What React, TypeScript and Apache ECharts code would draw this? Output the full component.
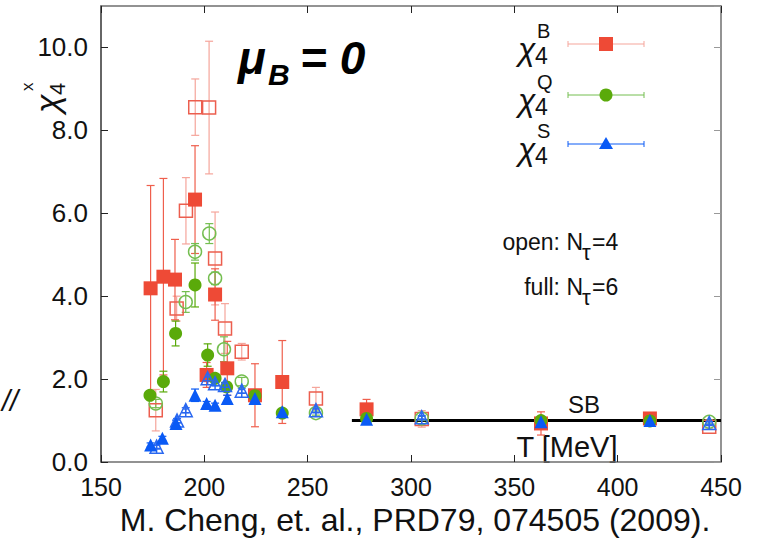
import React, { useEffect, useRef } from "react";
import * as echarts from "echarts";

// ---------- data (T in MeV, chi_4 values, symmetric errors) ----------
const xTicks = [150, 200, 250, 300, 350, 400, 450];
const yTicks = [0, 2, 4, 6, 8, 10];

// chi4^B, N_tau = 6 (filled)
const bFullT = [174.0, 180.2, 185.8, 195.5, 201.1, 205.2, 211.1, 224.5, 237.7, 278.5, 362.9, 415.6];
const bFullV = [4.19, 4.47, 4.40, 6.33, 2.10, 4.04, 2.26, 1.61, 1.93, 1.27, 0.93, 1.05];
const bFullE = [2.48, 2.37, 0.97, 1.30, 0.30, 0.62, 0.65, 0.76, 1.00, 0.24, 0.28, 0.05];
// chi4^B, N_tau = 4 (open)
const bOpenT = [176.5, 186.6, 191.1, 195.6, 202.3, 205.2, 210.0, 218.1, 254.0, 305.2, 444.3];
const bOpenV = [1.25, 3.70, 6.06, 8.56, 8.55, 4.91, 3.22, 2.66, 1.53, 1.04, 0.85];
const bOpenE = [0.50, 0.30, 0.80, 0.68, 1.60, 1.12, 0.60, 0.20, 0.27, 0.20, 0.05];
// chi4^Q, N_tau = 6 (filled)
const qFullT = [173.7, 180.2, 186.1, 195.5, 201.6, 205.2, 210.8, 224.5, 237.7, 278.5, 362.9, 415.6];
const qFullV = [1.61, 1.94, 3.10, 4.27, 2.58, 2.02, 1.81, 1.60, 1.18, 1.05, 1.00, 0.99];
const qFullE = [0.10, 0.25, 0.30, 0.53, 0.27, 0.10, 0.10, 0.10, 0.08, 0.05, 0.05, 0.03];
// chi4^Q, N_tau = 4 (open)
const qOpenT = [176.5, 191.0, 195.5, 202.4, 205.2, 209.5, 218.1, 254.0, 305.2, 444.3];
const qOpenV = [1.41, 3.86, 5.07, 5.51, 4.43, 2.72, 1.94, 1.18, 1.05, 0.97];
const qOpenE = [0.10, 0.25, 0.20, 0.24, 0.15, 0.30, 0.10, 0.05, 0.05, 0.05];
// chi4^S, N_tau = 6 (filled)
const sFullT = [174.0, 179.7, 186.3, 195.5, 201.1, 205.2, 211.1, 224.5, 237.7, 278.5, 362.9, 415.6];
const sFullV = [0.41, 0.57, 0.93, 1.61, 1.41, 1.37, 1.53, 1.53, 1.21, 1.03, 0.97, 1.00];
const sFullE = [0.05, 0.05, 0.08, 0.15, 0.05, 0.05, 0.08, 0.10, 0.05, 0.03, 0.03, 0.02];
// chi4^S, N_tau = 4 (open)
const sOpenT = [176.9, 186.8, 191.0, 201.6, 205.2, 210.0, 218.1, 254.0, 305.2, 444.3];
const sOpenV = [0.37, 1.00, 1.25, 2.02, 1.90, 1.86, 1.72, 1.25, 1.08, 0.94];
const sOpenE = [0.04, 0.05, 0.06, 0.08, 0.06, 0.06, 0.06, 0.05, 0.04, 0.03];

// Stefan-Boltzmann limit
const sbT = [271.4, 450];
const sbV = [1.0, 1.0];

const RED = "#EE4A36";
const RED_OPEN = "#EC5E4E";
const RED_BAR = "#EF5F4D";
const RED_BAR_PALE = "#F5A59B";
const GREEN = "#5AAA0A";
const GREEN_OPEN = "#74BE50";
const BLUE = "#0A5AF5";
const BLUE_OPEN = "#2A68F0";

const FONT = "'Liberation Sans', Arial, sans-serif";

const OPEN_TRI = "path://M5,0 L10,9 L0,9 Z M2.2,6.2 L7.8,6.2 M3.5,3.6 L6.5,3.6 M5,1 L5,9";

function errSeries(T: number[], V: number[], E: number[], color: string) {
  return {
    type: "custom",
    xAxisIndex: 0,
    yAxisIndex: 0,
    silent: true,
    z: 1,
    data: T.map((t, i) => [t, V[i] - E[i], V[i] + E[i]]),
    encode: { x: 0, y: [1, 2] },
    renderItem: (params: any, api: any) => {
      const x = api.value(0);
      const lo = api.coord([x, api.value(1)]);
      const hi = api.coord([x, api.value(2)]);
      const hw = 4;
      const st = { stroke: color, lineWidth: 1.2 };
      return {
        type: "group",
        children: [
          { type: "line", shape: { x1: lo[0], y1: lo[1], x2: hi[0], y2: hi[1] }, style: st },
          { type: "line", shape: { x1: lo[0] - hw, y1: lo[1], x2: lo[0] + hw, y2: lo[1] }, style: st },
          { type: "line", shape: { x1: hi[0] - hw, y1: hi[1], x2: hi[0] + hw, y2: hi[1] }, style: st },
        ],
      };
    },
  };
}

function scatter(T: number[], V: number[], symbol: string, size: number, filled: boolean, color: string, z: number) {
  return {
    type: "scatter",
    xAxisIndex: 0,
    yAxisIndex: 0,
    silent: true,
    z,
    symbol,
    symbolSize: size,
    data: T.map((t, i) => [t, V[i]]),
    itemStyle: filled
      ? { color, opacity: 1 }
      : { color: "rgba(255,255,255,0)", borderColor: color, borderWidth: 1.5, opacity: 1 },
  };
}

function legendEntry(y: number, sup: string, color: string, symbolEl: any) {
  return [
    { type: "text", x: 518, y: y + 5, style: { text: "χ", font: `italic 32px ${FONT}`, fill: "#111", textAlign: "left", textVerticalAlign: "middle" } },
    { type: "text", x: 535, y: y + 12, style: { text: "4", font: `23px ${FONT}`, fill: "#111", textAlign: "left", textVerticalAlign: "middle" } },
    { type: "text", x: 537, y: y - 13, style: { text: sup, font: `20px ${FONT}`, fill: "#111", textAlign: "left", textVerticalAlign: "middle" } },
    { type: "line", shape: { x1: 568, y1: y, x2: 644, y2: y }, style: { stroke: color, lineWidth: 1 } },
    { type: "line", shape: { x1: 568, y1: y - 3, x2: 568, y2: y + 3 }, style: { stroke: color, lineWidth: 1 } },
    { type: "line", shape: { x1: 644, y1: y - 3, x2: 644, y2: y + 3 }, style: { stroke: color, lineWidth: 1 } },
    symbolEl,
  ];
}

export default function App() {
  const ref = useRef<HTMLDivElement>(null);

  useEffect(() => {
    if (!ref.current) return;
    const chart = echarts.init(ref.current, undefined, { renderer: "svg" });

    const axisLineStyle = { color: "#6f6f6f", width: 1.5 };
    const tickStyle = { color: "#222", width: 1 };

    const option: any = {
      animation: false,
      backgroundColor: "#fff",
      grid: { left: 101, right: 38, top: 6, bottom: 78, containLabel: false },
      xAxis: [
        {
          type: "value", position: "bottom", min: xTicks[0], max: xTicks[xTicks.length - 1], interval: 50,
          axisLine: { onZero: false, lineStyle: axisLineStyle },
          axisTick: { inside: true, length: 7, lineStyle: tickStyle },
          axisLabel: { fontSize: 25, color: "#111", margin: 12, fontFamily: FONT },
          splitLine: { show: false },
        },
        {
          type: "value", position: "top", min: xTicks[0], max: xTicks[xTicks.length - 1], interval: 50,
          axisLine: { onZero: false, lineStyle: axisLineStyle },
          axisTick: { inside: true, length: 7, lineStyle: tickStyle },
          axisLabel: { show: false },
          splitLine: { show: false },
        },
      ],
      yAxis: [
        {
          type: "value", position: "left", min: yTicks[0], max: 11, interval: 2,
          axisLine: { onZero: false, lineStyle: { color: "#333", width: 1.5 } },
          axisTick: { inside: true, length: 7, lineStyle: tickStyle },
          axisLabel: {
            fontSize: 26, color: "#111", margin: 13, fontFamily: FONT, showMaxLabel: false,
            formatter: (v: number) => (yTicks.includes(v) ? v.toFixed(1) : ""),
          },
          splitLine: { show: false },
        },
        {
          type: "value", position: "right", min: yTicks[0], max: 11, interval: 2,
          axisLine: { onZero: false, lineStyle: axisLineStyle },
          axisTick: { inside: true, length: 7, lineStyle: { color: "#999", width: 1 } },
          axisLabel: { show: false },
          splitLine: { show: false },
        },
      ],
      series: [
        // SB line
        {
          type: "line", xAxisIndex: 0, yAxisIndex: 0, silent: true, z: 0,
          data: sbT.map((t, i) => [t, sbV[i]]), symbol: "none",
          lineStyle: { color: "#000", width: 3 },
        },
        errSeries(bOpenT, bOpenV, bOpenE, RED_BAR_PALE),
        errSeries(bFullT, bFullV, bFullE, RED_BAR),
        errSeries(qOpenT, qOpenV, qOpenE, GREEN_OPEN),
        errSeries(qFullT, qFullV, qFullE, GREEN),
        errSeries(sOpenT, sOpenV, sOpenE, BLUE_OPEN),
        errSeries(sFullT, sFullV, sFullE, BLUE),
        scatter(bOpenT, bOpenV, "rect", 13, false, RED_OPEN, 3),
        scatter(bFullT, bFullV, "rect", 14, true, RED, 4),
        scatter(qOpenT, qOpenV, "circle", 13, false, GREEN_OPEN, 5),
        scatter(qFullT, qFullV, "circle", 13, true, GREEN, 6),
        scatter(sOpenT, sOpenV, OPEN_TRI, 13, false, BLUE_OPEN, 7),
        scatter(sFullT, sFullV, "triangle", 13, true, BLUE, 8),
      ],
      graphic: [
        // mu_B = 0
        { type: "text", x: 238, y: 58, style: { text: "μ", font: `italic bold 46px ${FONT}`, fill: "#000", textVerticalAlign: "middle" } },
        { type: "text", x: 268, y: 74, style: { text: "B", font: `italic bold 30px ${FONT}`, fill: "#000", textVerticalAlign: "middle" } },
        { type: "text", x: 300, y: 58, style: { text: "= 0", font: `italic bold 46px ${FONT}`, fill: "#000", textVerticalAlign: "middle" } },
        // y axis title chi_4^x (rotated)
        {
          type: "group", x: 47, y: 113, rotation: Math.PI / 2,
          children: [
            { type: "text", x: 0, y: 0, style: { text: "χ", font: `italic 34px ${FONT}`, fill: "#111", textVerticalAlign: "middle" } },
            { type: "text", x: 18, y: 10, style: { text: "4", font: `22px ${FONT}`, fill: "#111", textVerticalAlign: "middle" } },
            { type: "text", x: 22, y: -20, style: { text: "x", font: `17px ${FONT}`, fill: "#111", textVerticalAlign: "middle" } },
          ],
        },
        { type: "text", x: 2, y: 401, style: { text: "//", font: `italic 29px ${FONT}`, fill: "#111", textVerticalAlign: "middle" } },
        // legend
        ...legendEntry(44, "B", RED_BAR_PALE, { type: "rect", shape: { x: 599, y: 37, width: 14, height: 14 }, style: { fill: RED } }),
        ...legendEntry(95, "Q", GREEN_OPEN, { type: "circle", shape: { cx: 606, cy: 95, r: 6.5 }, style: { fill: GREEN } }),
        ...legendEntry(144, "S", BLUE, { type: "polygon", shape: { points: [[606, 137], [613, 149], [599, 149]] }, style: { fill: BLUE } }),
        // lattice notes
        { type: "text", x: 583, y: 242, style: { text: "open: N", font: `23px ${FONT}`, fill: "#111", textAlign: "right", textVerticalAlign: "middle" } },
        { type: "text", x: 582, y: 252, style: { text: "τ", font: `22px ${FONT}`, fill: "#111", textAlign: "left", textVerticalAlign: "middle" } },
        { type: "text", x: 592, y: 242, style: { text: "=4", font: `23px ${FONT}`, fill: "#111", textAlign: "left", textVerticalAlign: "middle" } },
        { type: "text", x: 583, y: 287, style: { text: "full: N", font: `23px ${FONT}`, fill: "#111", textAlign: "right", textVerticalAlign: "middle" } },
        { type: "text", x: 582, y: 297, style: { text: "τ", font: `22px ${FONT}`, fill: "#111", textAlign: "left", textVerticalAlign: "middle" } },
        { type: "text", x: 592, y: 287, style: { text: "=6", font: `23px ${FONT}`, fill: "#111", textAlign: "left", textVerticalAlign: "middle" } },
        // SB label & axis name
        { type: "text", x: 584, y: 404, style: { text: "SB", font: `24px ${FONT}`, fill: "#111", textAlign: "center", textVerticalAlign: "middle" } },
        { type: "text", x: 567, y: 447, style: { text: "T [MeV]", font: `29px ${FONT}`, fill: "#111", textAlign: "center", textVerticalAlign: "middle" } },
        // citation
        { type: "text", x: 415, y: 520, style: { text: "M. Cheng, et. al., PRD79, 074505 (2009).", font: `32px ${FONT}`, fill: "#111", textAlign: "center", textVerticalAlign: "middle" } },
      ],
    };

    chart.setOption(option);
    return () => chart.dispose();
  }, []);

  return (
    <div
      ref={ref}
      style={{ position: "fixed", left: 0, top: 0, width: 759, height: 540, background: "#fff" }}
    />
  );
}
